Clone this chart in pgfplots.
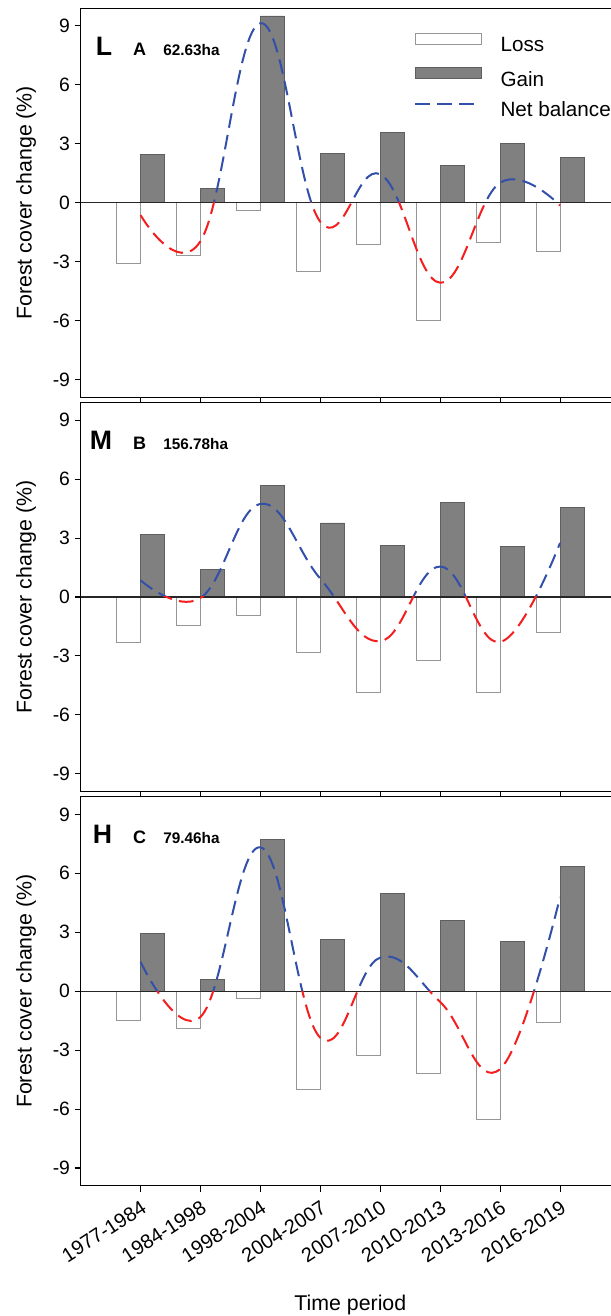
\documentclass[border=0pt]{standalone}
\usepackage{fontspec}
\setmainfont{Liberation Sans}
\usepackage{pgfplots}
\pgfplotsset{compat=1.18}

\definecolor{netblue}{RGB}{50,80,170}
\definecolor{netred}{RGB}{245,30,30}
\definecolor{gainfill}{RGB}{128,128,128}
\definecolor{gainedge}{RGB}{95,95,95}
\definecolor{lossedge}{RGB}{150,150,150}

\tikzset{
 lblbig/.style={anchor=base east, inner sep=0pt, font=\bfseries\fontsize{20}{22}\selectfont},
 lblmid/.style={anchor=base west, inner sep=0pt, font=\bfseries\fontsize{13.5}{15}\selectfont},
 lblsmall/.style={anchor=base west, inner sep=0pt, font=\bfseries\fontsize{11.5}{13}\selectfont},
}

\pgfplotsset{
 panel/.style={
  width=404.5pt, height=291.75pt, scale only axis,
  xmin=-1, xmax=8, ymin=-9.9, ymax=9.9,
  ytick={-9,-6,-3,0,3,6,9},
  yticklabels={-9,-6,-3,0,3,6,9},
  xtick={0,1,2,3,4,5,6,7},
  tick align=outside,
  xtick pos=left, ytick pos=left,
  major tick length=4.5pt,
  axis line style={line width=0.9pt, black},
  every tick/.style={line width=0.8pt, black},
  tick label style={font=\fontsize{14.5}{16}\selectfont},
  ylabel={Forest cover change (\%)},
  ylabel style={font=\fontsize{16}{18}\selectfont, at={(axis description cs:-0.0909,0.5)}, anchor=base},
 },
 lossbar/.style={ybar, bar width=0.4, bar shift=-0.2, draw=lossedge, fill=white, line width=0.6pt},
 gainbar/.style={ybar, bar width=0.4, bar shift=0.2, draw=gainedge, fill=gainfill, line width=0.6pt},
 netline/.style={smooth, tension=0.7, line width=1.5pt, dash pattern=on 11pt off 5.5pt},
 zeroline/.style={forget plot, black!85, line width=0.9pt},
}

\begin{document}
\begin{tikzpicture}
% ---------------- Panel L ----------------
\begin{axis}[panel, name=a1, at={(0pt,0pt)}, anchor=north west,
  xticklabels={},
  legend style={draw=none, fill=none, inner sep=0pt, outer sep=0pt,
    at={(axis cs:4.567,8.63)}, anchor=north west,
    font=\fontsize{15.5}{17}\selectfont, legend cell align=left,
    row sep=8.5pt,
    nodes={inner sep=0pt, text height=11.5pt, text depth=3pt},
    /tikz/every odd column/.append style={column sep=13.7pt}},
]
\addplot[lossbar, legend image code/.code={\draw[lossedge, fill=white, line width=0.6pt] (0pt,1.5pt) rectangle (49.5pt,9.5pt);}]
  coordinates {(0,-3.09) (1,-2.68) (2,-0.37) (3,-3.48) (4,-2.12) (5,-5.99) (6,-2.02) (7,-2.45)};
\addlegendentry{Loss}
\addplot[gainbar, legend image code/.code={\draw[gainedge, fill=gainfill, line width=0.6pt] (0pt,1.5pt) rectangle (49.5pt,9.5pt);}]
  coordinates {(0,2.46) (1,0.73) (2,9.51) (3,2.51) (4,3.57) (5,1.92) (6,3.04) (7,2.31)};
\addlegendentry{Gain}
\addplot[zeroline] coordinates {(-1,0) (8,0)};
\begin{scope}
\clip (axis cs:-1,0) rectangle (axis cs:8,9.9);
\addplot[netline, netblue, legend image code/.code={\draw[netblue, line width=1.5pt, dash pattern=on 11pt off 5.5pt] (0pt,5.5pt) -- (49.5pt,5.5pt);}]
  coordinates {(0,-0.63) (1,-1.95) (2,9.14) (3,-0.97) (4,1.45) (5,-4.07) (6,1.02) (7,-0.14)};
\addlegendentry{Net balance}
\end{scope}
\begin{scope}
\clip (axis cs:-1,-9.9) rectangle (axis cs:8,0);
\addplot[netline, netred, forget plot]
  coordinates {(0,-0.63) (1,-1.95) (2,9.14) (3,-0.97) (4,1.45) (5,-4.07) (6,1.02) (7,-0.14)};
\end{scope}
\node[lblbig] at (axis cs:-0.47,7.52) {L};
\node[lblmid] at (axis cs:-0.13,7.52) {A};
\node[lblsmall] at (axis cs:0.375,7.52) {62.63ha};
\end{axis}

% ---------------- Panel M ----------------
\begin{axis}[panel, name=a2, at={(0pt,-295.65pt)}, anchor=north west,
  xticklabels={}]
\addplot[lossbar]
  coordinates {(0,-2.33) (1,-1.46) (2,-0.95) (3,-2.84) (4,-4.87) (5,-3.24) (6,-4.87) (7,-1.82)};
\addplot[gainbar]
  coordinates {(0,3.18) (1,1.41) (2,5.69) (3,3.77) (4,2.62) (5,4.79) (6,2.58) (7,4.57)};
\addplot[zeroline] coordinates {(-1,0) (8,0)};
\begin{scope}
\clip (axis cs:-1,0) rectangle (axis cs:8,9.9);
\addplot[netline, netblue]
  coordinates {(0,0.85) (1,-0.05) (2,4.74) (3,0.93) (4,-2.25) (5,1.55) (6,-2.29) (7,2.75)};
\end{scope}
\begin{scope}
\clip (axis cs:-1,-9.9) rectangle (axis cs:8,0);
\addplot[netline, netred]
  coordinates {(0,0.85) (1,-0.05) (2,4.74) (3,0.93) (4,-2.25) (5,1.55) (6,-2.29) (7,2.75)};
\end{scope}
\node[lblbig] at (axis cs:-0.47,7.52) {M};
\node[lblmid] at (axis cs:-0.13,7.52) {B};
\node[lblsmall] at (axis cs:0.375,7.52) {156.78ha};
\end{axis}

% ---------------- Panel H ----------------
\begin{axis}[panel, name=a3, at={(0pt,-591.3pt)}, anchor=north west,
  xticklabels={1977-1984,1984-1998,1998-2004,2004-2007,2007-2010,2010-2013,2013-2016,2016-2019},
  xticklabel shift=4pt,
  xticklabel style={rotate=33, anchor=north east, inner sep=1pt, font=\fontsize{15}{17}\selectfont},
  xlabel={Time period},
  xlabel style={font=\fontsize{16}{18}\selectfont, at={(axis description cs:0.5,0)}, anchor=base, yshift=-93.75pt}]
\addplot[lossbar]
  coordinates {(0,-1.47) (1,-1.91) (2,-0.39) (3,-4.99) (4,-3.25) (5,-4.17) (6,-6.51) (7,-1.57)};
\addplot[gainbar]
  coordinates {(0,2.96) (1,0.60) (2,7.71) (3,2.62) (4,4.96) (5,3.62) (6,2.55) (7,6.36)};
\addplot[zeroline] coordinates {(-1,0) (8,0)};
\begin{scope}
\clip (axis cs:-1,0) rectangle (axis cs:8,9.9);
\addplot[netline, netblue]
  coordinates {(0,1.49) (1,-1.31) (2,7.32) (3,-2.37) (4,1.71) (5,-0.55) (6,-3.96) (7,4.79)};
\end{scope}
\begin{scope}
\clip (axis cs:-1,-9.9) rectangle (axis cs:8,0);
\addplot[netline, netred]
  coordinates {(0,1.49) (1,-1.31) (2,7.32) (3,-2.37) (4,1.71) (5,-0.55) (6,-3.96) (7,4.79)};
\end{scope}
\node[lblbig] at (axis cs:-0.47,7.52) {H};
\node[lblmid] at (axis cs:-0.13,7.52) {C};
\node[lblsmall] at (axis cs:0.375,7.52) {79.46ha};
\end{axis}

\pgfresetboundingbox
\useasboundingbox (-60.5pt,6.2pt) rectangle (397.7pt,-980.8pt);
\end{tikzpicture}
\end{document}
